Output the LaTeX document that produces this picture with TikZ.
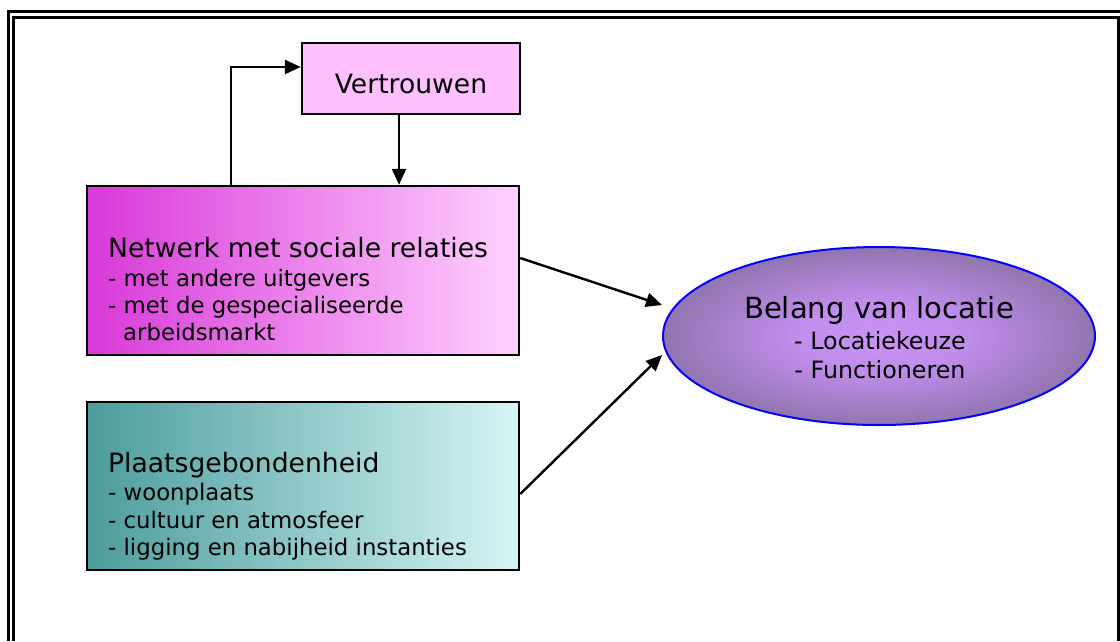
\documentclass[tikz,border=0pt]{standalone}
\usepackage{fontspec}
\setmainfont{DejaVu Sans}
\usetikzlibrary{arrows.meta,calc,shapes.geometric}
\definecolor{vertpink}{HTML}{FFC0FF}
\definecolor{netleft}{HTML}{D838D8}
\definecolor{netright}{HTML}{FFD2FF}
\definecolor{plleft}{HTML}{4C9C9C}
\definecolor{plright}{HTML}{D6F5F5}
\definecolor{ellin}{HTML}{C992F7}
\definecolor{ellout}{HTML}{7C6A94}
\pgfdeclareradialshading{ellshade}{\pgfpoint{0bp}{0bp}}{color(0bp)=(ellin); color(10bp)=(ellin!88!ellout); color(32bp)=(ellout); color(50bp)=(ellout)}
\tikzset{
  boxstyle/.style={draw=black, line width=2.4pt, rectangle, inner sep=0pt},
  conn/.style={line width=2.4pt, -{Triangle[length=16pt,width=14pt]}},
  frameline/.style={line width=3pt},
  ttl/.style={inner sep=0pt, font=\fontsize{26.6}{28}\selectfont},
  sub/.style={inner sep=0pt, font=\fontsize{22.8}{26}\selectfont},
}
\begin{document}
\begin{tikzpicture}[x=1pt,y=-1pt]
\useasboundingbox (0,0) rectangle (1120,641);
% frame
\draw[frameline] (8,641) -- (8,11) -- (1120,11);
\draw[frameline] (13.5,641) -- (13.5,17) -- (1118,17) -- (1118,641);
% boxes
\node[boxstyle, fill=vertpink, minimum width=218pt, minimum height=71pt] (vert) at (411,78.5) {};
\node[boxstyle, left color=netleft, right color=netright, minimum width=432pt, minimum height=169pt] (net) at (303,270.5) {};
\node[boxstyle, left color=plleft, right color=plright, minimum width=432pt, minimum height=168pt] (pl) at (303,486) {};
\node[ellipse, draw=blue, line width=2pt, shading=ellshade, minimum width=432pt, minimum height=178pt, inner sep=0pt] (ell) at (879,336) {};
% texts
\node[ttl, anchor=base] (vertt) at (411,93) {Vertrouwen};
\node[ttl, anchor=base west] (nett) at (108,257) {Netwerk met sociale relaties};
\node[sub, anchor=base west] (net1) at (108,286) {- met andere uitgevers};
\node[sub, anchor=base west] (net2) at (108,313) {- met de gespecialiseerde};
\node[sub, anchor=base west] (net3) at (123,340) {arbeidsmarkt};
\node[ttl, anchor=base west] (plt) at (108,472) {Plaatsgebondenheid};
\node[sub, anchor=base west] (pl1) at (108,500) {- woonplaats};
\node[sub, anchor=base west] (pl2) at (108,528) {- cultuur en atmosfeer};
\node[sub, anchor=base west] (pl3) at (108,555) {- ligging en nabijheid instanties};
\node[inner sep=0pt, font=\fontsize{29.1}{30}\selectfont, anchor=base] (ellt) at (879,318) {Belang van locatie};
\node[inner sep=0pt, font=\fontsize{23.8}{26}\selectfont, anchor=base] (ell1) at (880,349) {- Locatiekeuze};
\node[inner sep=0pt, font=\fontsize{23.8}{26}\selectfont, anchor=base] (ell2) at (880,378) {- Functioneren};
% connectors
\draw[conn] ([xshift=-72pt]net.north) |- ([yshift=11.5pt]vert.west);
\draw[conn] ([xshift=-12pt]vert.south) -- ([xshift=-12pt]vert.south |- net.north);
\draw[conn] ([yshift=12.5pt]net.east) -- ([yshift=31pt]ell.west);
\draw[conn] ([yshift=-8pt]pl.east) -- ([yshift=-19pt]ell.west);
\end{tikzpicture}
\end{document}
